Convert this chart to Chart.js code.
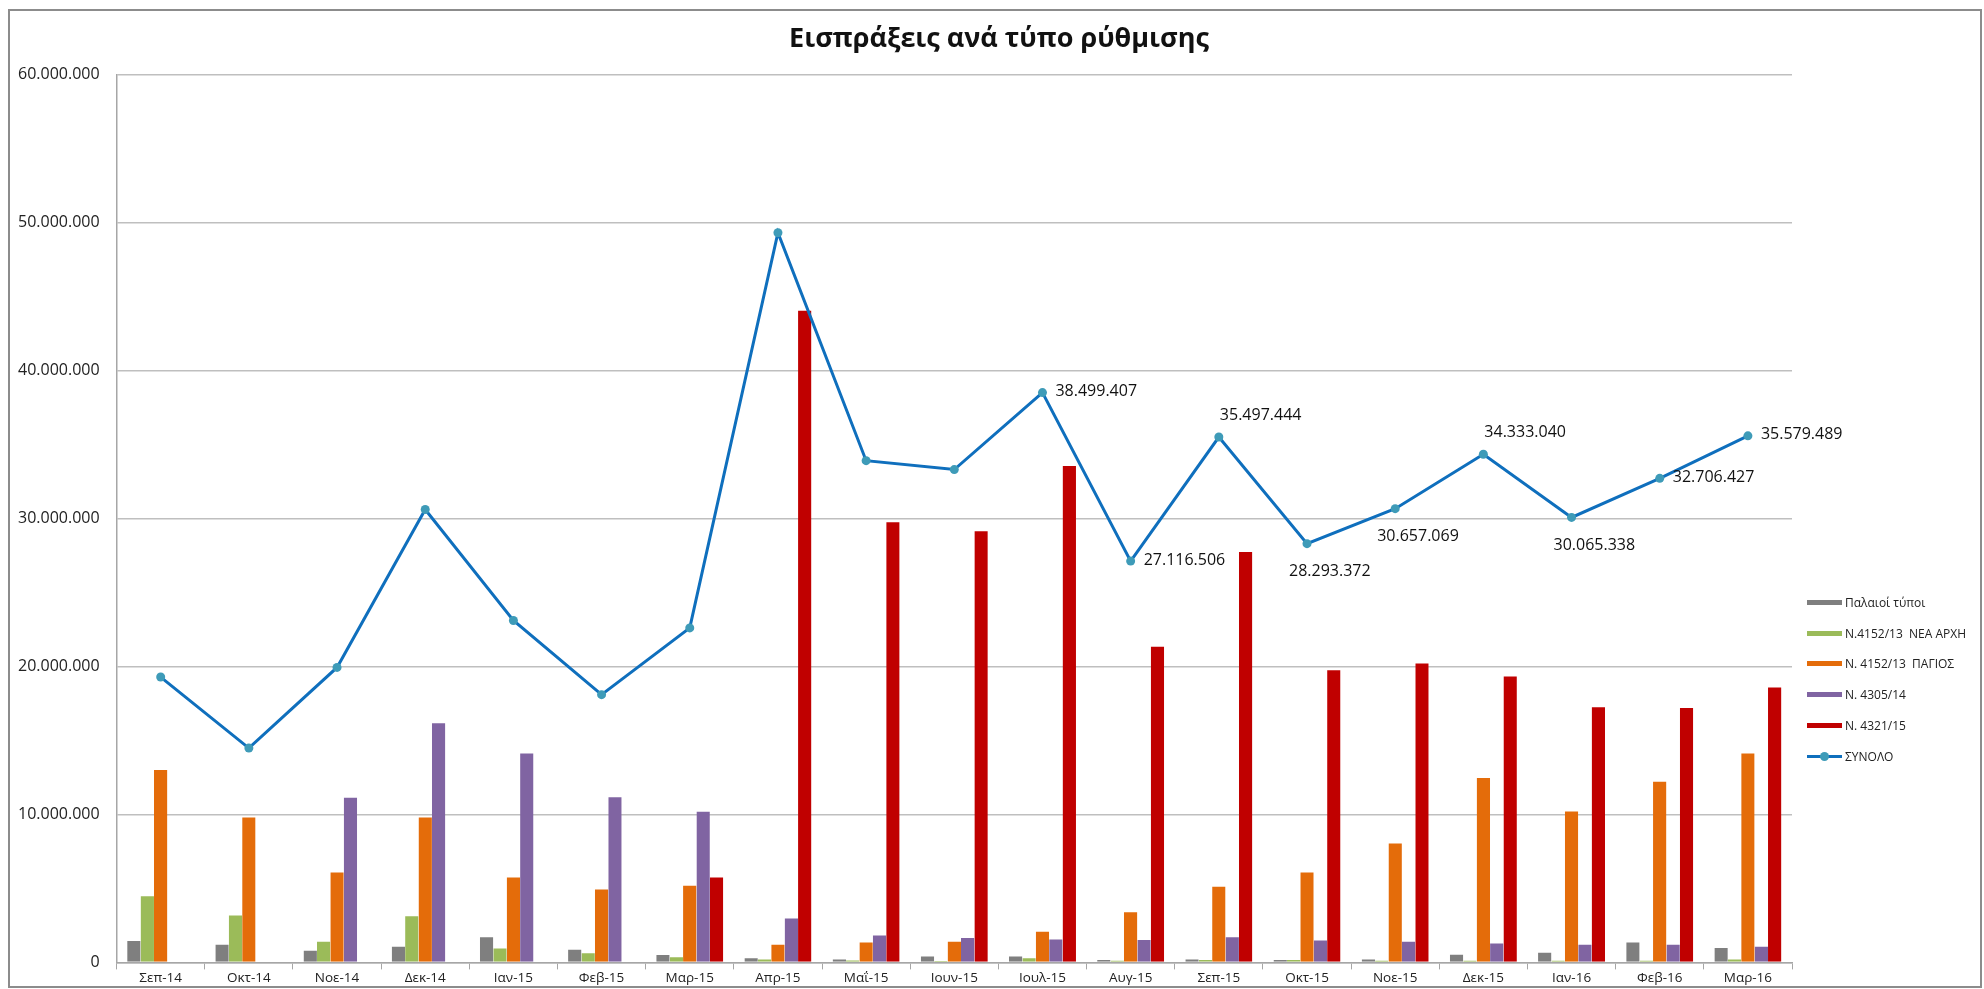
<!DOCTYPE html>
<html>
<head>
<meta charset="utf-8">
<script src="https://cdn.jsdelivr.net/npm/chart.js@4.4.1/dist/chart.umd.min.js"></script>
<style>
  body{margin:0;background:#fff;font-family:"Open Sans",sans-serif;}
  #frame{position:absolute;left:8px;top:9px;width:1974px;height:979px;box-sizing:border-box;border:2px solid #8c8c8c;}
  #wrap{position:absolute;left:1px;top:11px;width:1978px;height:978px;}
  #legend{position:absolute;left:1807px;top:587px;font-size:12px;color:#222;white-space:pre;}
  #legend .item{height:30.8px;display:flex;align-items:center;}
  #legend .sw{width:35px;height:5px;margin-right:3px;position:relative;}
  #legend .dot{position:absolute;left:13px;width:9px;height:9px;border-radius:50%;}
</style>
</head>
<body>
<div id="frame"></div>
<div id="wrap"><canvas id="chart"></canvas></div>
<div id="legend"></div>
<script>
const months = ["Σεπ-14","Οκτ-14","Νοε-14","Δεκ-14","Ιαν-15","Φεβ-15","Μαρ-15","Απρ-15","Μαΐ-15","Ιουν-15","Ιουλ-15","Αυγ-15","Σεπ-15","Οκτ-15","Νοε-15","Δεκ-15","Ιαν-16","Φεβ-16","Μαρ-16"];

const palaioi  = [1510000,1260000,860000,1130000,1760000,920000,560000,340000,270000,470000,470000,230000,270000,230000,270000,590000,720000,1420000,1040000];
const neaArxi  = [4530000,3240000,1460000,3180000,1010000,680000,410000,270000,200000,140000,340000,180000,230000,230000,180000,180000,180000,180000,270000];
const pagios   = [13060000,9860000,6150000,9860000,5810000,5000000,5250000,1260000,1420000,1460000,2140000,3450000,5180000,6150000,8100000,12520000,10270000,12270000,14190000];
const n4305    = [null,null,11190000,16220000,14190000,11220000,10250000,3040000,1890000,1710000,1620000,1580000,1760000,1550000,1460000,1350000,1260000,1260000,1130000];
const n4321    = [null,null,null,null,null,null,5810000,44100000,29800000,29200000,33600000,21400000,27800000,19800000,20270000,19390000,17300000,17250000,18650000];
const synolo   = [19280000,14480000,19930000,30600000,23100000,18090000,22600000,49300000,33900000,33300000,38499407,27116506,35497444,28293372,30657069,34333040,30065338,32706427,35579489];

// which SYNOLO points carry a value label, and where
const labelSide = [null,null,null,null,null,null,null,null,null,null,"right","right","above","below","below","above","below","right","right"];

const yTicks = [0,10000000,20000000,30000000,40000000,50000000,60000000];

const barNames  = ["Παλαιοί τύποι","Ν.4152/13  ΝΕΑ ΑΡΧΗ","Ν. 4152/13  ΠΑΓΙΟΣ","Ν. 4305/14","Ν. 4321/15"];
const barColors = ["#7f7f7f","#9bbb59","#e46c0a","#8064a2","#c00000"];
const lineName = "ΣΥΝΟΛΟ", lineColor = "#0f6fbd", pointColor = "#3e9bb8";

function fmt(v){ return String(Math.round(v)).replace(/\B(?=(\d{3})+(?!\d))/g,"."); }

const barSeries=[palaioi,neaArxi,pagios,n4305,n4321];
const datasets = barSeries.map((d,i)=>({type:"bar",label:barNames[i],data:d,backgroundColor:barColors[i],
  borderColor:"rgba(255,255,255,0.5)",borderWidth:{top:1,left:0,right:0,bottom:0},order:2,
  categoryPercentage:0.76,barPercentage:1.0}));
datasets.push({type:"line",label:lineName,data:synolo,borderColor:lineColor,borderWidth:3,tension:0,
  pointRadius:4.5,pointBackgroundColor:pointColor,pointBorderColor:pointColor,pointBorderWidth:0,order:0});

const valueLabels={id:"valueLabels",afterDatasetsDraw(chart){
  const {ctx}=chart; const meta=chart.getDatasetMeta(datasets.length-1);
  ctx.save(); ctx.font='16px "Open Sans"'; ctx.fillStyle="#111"; ctx.textBaseline="middle"; ctx.textAlign="left";
  meta.data.forEach((pt,i)=>{
    const side=labelSide[i]; if(!side) return;
    const t=fmt(synolo[i]);
    if(side==="right") ctx.fillText(t,pt.x+13,pt.y-1);
    else if(side==="above") ctx.fillText(t,pt.x+1,pt.y-22);
    else ctx.fillText(t,pt.x-18,pt.y+28);
  });
  ctx.restore();
}};

new Chart(document.getElementById("chart"),{
  type:"bar",
  data:{labels:months,datasets},
  options:{
    responsive:true,maintainAspectRatio:false,animation:false,
    layout:{padding:{left:0,right:0,top:0,bottom:0}},
    plugins:{
      legend:{display:false},tooltip:{enabled:false},
      title:{display:true,text:"\u2002\u2009Εισπράξεις ανά τύπο ρύθμισης",color:"#111",
        font:{family:"Open Sans",size:27,weight:"bold"},padding:{top:12,bottom:19}}
    },
    scales:{
      x:{grid:{offset:true,drawOnChartArea:false,drawTicks:true,tickLength:7,color:"#a6a6a6"},
        border:{color:"#a6a6a6",width:1.5},
        ticks:{color:"#222",font:{family:"Open Sans",size:13.5},padding:1,maxRotation:0,autoSkip:false}},
      y:{min:0,max:60000000,afterBuildTicks(s){ s.ticks=yTicks.map(v=>({value:v})); },
        grid:{color:"#bfbfbf",lineWidth:1.5,drawTicks:false},
        border:{color:"#a6a6a6",width:1.5},
        ticks:{color:"#222",font:{family:"Open Sans",size:16},padding:17,callback:v=>fmt(v)}},
      // empty right axis: keeps room for the legend without moving the title
      side:{type:"linear",position:"right",display:true,min:0,max:1,
        grid:{drawOnChartArea:false,drawTicks:false},border:{display:false},ticks:{display:false},
        afterFit(s){ s.width=187; }}
    }
  },
  plugins:[valueLabels]
});

const lg=document.getElementById("legend");
lg.innerHTML = barNames.map((n,i)=>`<div class="item"><span class="sw" style="background:${barColors[i]}"></span>${n}</div>`).join("")
  + `<div class="item"><span class="sw" style="height:3px;background:${lineColor}"><span class="dot" style="background:${pointColor};top:-3px"></span></span>${lineName}</div>`;
</script>
</body>
</html>
